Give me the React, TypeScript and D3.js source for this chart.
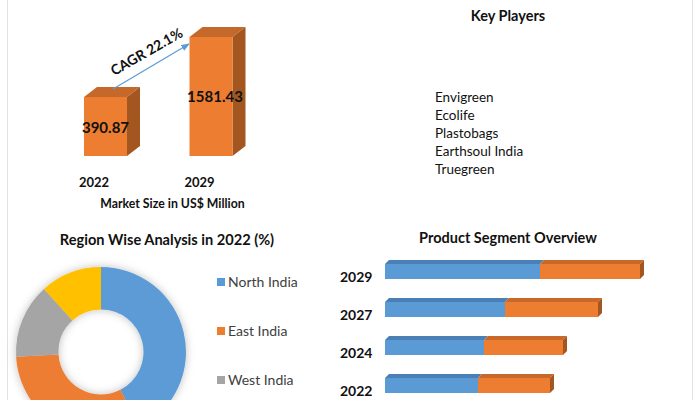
import React from "react";
import * as d3 from "d3";

const marketYears = ["2022", "2029"];
const marketValues = [390.87, 1581.43];
const cagrLabel = "CAGR 22.1%";

const keyPlayers = ["Envigreen", "Ecolife", "Plastobags", "Earthsoul India", "Truegreen"];

const regions = ["North India", "East India", "West India", "South India"];
const regionShares = [42.5, 31.6, 14.2, 11.7];
const regionColors = ["#5B9BD5", "#ED7D31", "#A5A5A5", "#FFC000"];

const segmentYears = ["2029", "2027", "2024", "2022"];
const segmentA = [155, 120, 99, 93];
const segmentB = [100, 93, 79, 72];

const FONT = "Lato, 'Open Sans', sans-serif";

function Box({ x, y, w, h, dx, dy, front, top, side }: any) {
  return (
    <g>
      <path d={`M${x},${y}L${x + dx},${y + dy}L${x + w + dx},${y + dy}L${x + w},${y}Z`} fill={top} />
      <path d={`M${x + w},${y}L${x + w + dx},${y + dy}L${x + w + dx},${y + h + dy}L${x + w},${y + h}Z`} fill={side} />
      <rect x={x} y={y} width={w} height={h} fill={front} />
    </g>
  );
}

export default function App() {
  // Market size bars
  const xM = d3.scalePoint<string>().domain(marketYears).range([105.5, 211]);
  const yM = d3.scaleLinear().domain([-780, 1581.43]).range([156, 37]);
  const barW = 43;

  // Donut
  const pie = d3.pie<number>().sort(null).value((d) => d)(regionShares);
  const arc = d3.arc<d3.PieArcDatum<number>>().innerRadius(42.5).outerRadius(85);

  // Product segments
  const yS = d3.scalePoint<string>().domain(segmentYears).range([264, 378]);
  const xS = d3.scaleLinear().domain([0, 300]).range([385, 685]);
  const segH = 15;

  const legendY = (i: number) => 282 + i * 49;

  return (
    <svg width={698} height={400} style={{ position: "absolute", left: 0, top: 0, background: "#fff" }} fontFamily={FONT}>
      <defs>
        <filter id="glow" x="-30%" y="-30%" width="160%" height="160%">
          <feDropShadow dx="0" dy="0" stdDeviation="4" floodColor="#000" floodOpacity="0.25" />
        </filter>
        <marker id="arr" viewBox="0 0 10 10" refX="9" refY="5" markerWidth="7" markerHeight="7" orient="auto">
          <path d="M0,1L10,5L0,9Z" fill="#5B9BD5" />
        </marker>
      </defs>
      <line x1={7.5} x2={7.5} y1={0} y2={400} stroke="#e2e2e2" />
      <line x1={692.5} x2={692.5} y1={0} y2={400} stroke="#e2e2e2" />

      {/* Market size 3D bars */}
      {marketYears.map((yr, i) => {
        const cx = xM(yr)!;
        const top = yM(marketValues[i]);
        return (
          <Box key={yr} x={cx - barW / 2} y={top} w={barW} h={yM.range()[0] - top} dx={13} dy={-10}
            front="#ED7D31" top="#C5692A" side="#A3561F" />
        );
      })}
      <text x={xM("2022")!} y={133} textAnchor="middle" fontWeight="bold" fontSize={15} fill="#111">390.87</text>
      <text x={xM("2029")! + 4} y={102} textAnchor="middle" fontWeight="bold" fontSize={15} fill="#111">1581.43</text>
      <line x1={113} y1={89} x2={189} y2={44} stroke="#5B9BD5" strokeWidth={1.2} markerEnd="url(#arr)" />
      <text transform="translate(149,56) rotate(-30)" textAnchor="middle" fontWeight="bold" fontSize={14} fill="#111">{cagrLabel}</text>
      {marketYears.map((yr) => (
        <text key={yr} x={xM(yr)! - 11.5} y={187} textAnchor="middle" fontWeight="bold" fontSize={13} fill="#111">{yr}</text>
      ))}
      <text x={172.5} y={208} textAnchor="middle" fontWeight="bold" fontSize={12.3} fill="#111">Market Size in US$ Million</text>

      {/* Key players */}
      <text x={508} y={21} textAnchor="middle" fontWeight="bold" fontSize={14.5} fill="#111">Key Players</text>
      {keyPlayers.map((p, i) => (
        <text key={p} x={435} y={102 + i * 18} fontSize={13.5} fill="#111">{p}</text>
      ))}

      {/* Region donut */}
      <text x={167} y={245} textAnchor="middle" fontWeight="bold" fontSize={14.6} fill="#111">Region Wise Analysis in 2022 (%)</text>
      <g transform="translate(101,352)" filter="url(#glow)">
        {pie.map((p, i) => (
          <path key={regions[i]} d={arc(p)!} fill={regionColors[i]} />
        ))}
      </g>
      {regions.map((r, i) => legendY(i) + 8 < 400 ? (
        <g key={r} transform={`translate(217,${legendY(i)})`}>
          <rect x={0} y={-4} width={8} height={8} fill={regionColors[i]} />
          <text x={11} y={5} fontSize={14} fill="#404040">{r}</text>
        </g>
      ) : null)}

      {/* Product segment */}
      <text x={508} y={243} textAnchor="middle" fontWeight="bold" fontSize={14.5} fill="#111">Product Segment Overview</text>
      {segmentYears.map((yr, i) => {
        const y = yS(yr)!;
        const x0 = xS(0);
        const x1 = xS(segmentA[i]);
        const x2 = xS(segmentA[i] + segmentB[i]);
        return (
          <g key={yr}>
            <path d={`M${x0},${y}L${x0 + 4},${y - 4}L${x1 + 4},${y - 4}L${x1},${y}Z`} fill="#4A80B5" />
            <path d={`M${x1},${y}L${x1 + 4},${y - 4}L${x2 + 4},${y - 4}L${x2},${y}Z`} fill="#C8682A" />
            <path d={`M${x2},${y}L${x2 + 4},${y - 4}L${x2 + 4},${y + segH - 4}L${x2},${y + segH}Z`} fill="#A3561F" />
            <rect x={x0} y={y} width={x1 - x0} height={segH} fill="#5B9BD5" />
            <rect x={x1} y={y} width={x2 - x1} height={segH} fill="#ED7D31" />
            <text x={340} y={y + 18} fontWeight="bold" fontSize={14} fill="#111">{yr}</text>
          </g>
        );
      })}
    </svg>
  );
}
